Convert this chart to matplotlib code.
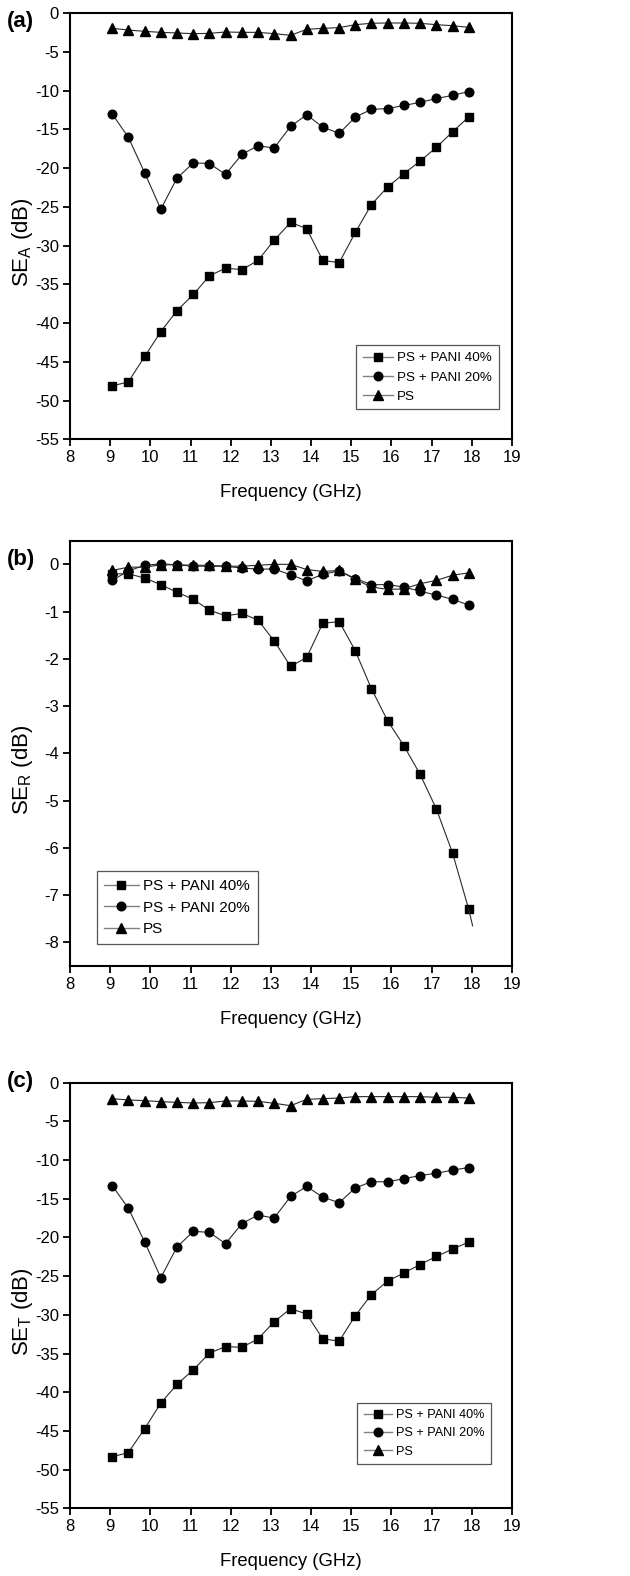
import matplotlib
matplotlib.use("Agg")
import matplotlib.pyplot as plt
from matplotlib.lines import Line2D

plt.rcParams['font.family'] = ['Liberation Sans', 'DejaVu Sans']
plt.rcParams['axes.unicode_minus'] = False
plt.rcParams['mathtext.fontset'] = 'custom'
plt.rcParams['mathtext.rm'] = 'Liberation Sans'

# ---------------- data ----------------
freq = [9.05, 9.45, 9.86, 10.26, 10.66, 11.07, 11.47, 11.87, 12.28, 12.68, 13.08, 13.49,
        13.89, 14.29, 14.70, 15.10, 15.50, 15.91, 16.31, 16.71, 17.12, 17.52, 17.92]

series_labels = ['PS + PANI 40%', 'PS + PANI 20%', 'PS']

se_a_pani40 = [-48.1, -47.6, -44.3, -41.1, -38.4, -36.3, -33.9, -32.9, -33.1, -31.9, -29.3, -27.0,
               -27.8, -31.9, -32.2, -28.3, -24.7, -22.4, -20.7, -19.1, -17.3, -15.3, -13.4]
se_a_pani20 = [-13.0, -16.0, -20.6, -25.3, -21.3, -19.3, -19.4, -20.8, -18.2, -17.1, -17.4, -14.6,
               -13.1, -14.7, -15.5, -13.4, -12.4, -12.3, -11.9, -11.5, -11.0, -10.6, -10.1]
se_a_ps = [-1.94, -2.16, -2.33, -2.46, -2.54, -2.63, -2.59, -2.41, -2.46, -2.46, -2.63, -2.84,
           -2.07, -1.94, -1.85, -1.47, -1.29, -1.25, -1.25, -1.29, -1.47, -1.60, -1.81]

se_r_pani40 = [-0.20, -0.20, -0.29, -0.43, -0.59, -0.74, -0.97, -1.09, -1.04, -1.18, -1.62, -2.16,
               -1.97, -1.25, -1.21, -1.83, -2.63, -3.32, -3.84, -4.44, -5.18, -6.11, -7.29]
se_r_pani40_tail_freq = [17.92, 18.02]
se_r_pani40_tail = [-7.29, -7.65]
se_r_pani20 = [-0.34, -0.14, -0.02, 0.01, -0.01, -0.04, -0.04, -0.04, -0.08, -0.10, -0.10, -0.22,
               -0.35, -0.21, -0.14, -0.30, -0.43, -0.43, -0.48, -0.57, -0.65, -0.74, -0.86]
se_r_ps = [-0.13, -0.06, -0.06, -0.01, -0.01, -0.02, -0.02, -0.04, -0.04, -0.02, 0.00, 0.00,
           -0.11, -0.15, -0.13, -0.32, -0.48, -0.53, -0.52, -0.41, -0.34, -0.23, -0.18]

se_t_pani40 = [-48.35, -47.8, -44.7, -41.4, -39.0, -37.1, -34.95, -34.1, -34.2, -33.1, -30.9, -29.2,
               -29.9, -33.1, -33.4, -30.1, -27.4, -25.6, -24.6, -23.5, -22.45, -21.5, -20.6]
se_t_pani20 = [-13.3, -16.2, -20.6, -25.2, -21.25, -19.2, -19.35, -20.8, -18.2, -17.1, -17.5, -14.7,
               -13.4, -14.8, -15.5, -13.6, -12.8, -12.8, -12.4, -12.0, -11.7, -11.3, -10.96]
se_t_ps = [-2.06, -2.23, -2.32, -2.45, -2.54, -2.62, -2.58, -2.36, -2.36, -2.41, -2.66, -2.97,
           -2.15, -2.06, -1.98, -1.80, -1.80, -1.80, -1.80, -1.80, -1.89, -1.89, -1.98]

x_ticks = list(range(8, 20))
yticks_ab = list(range(0, -56, -5))
yticks_r = list(range(0, -9, -1))

# ---------------- figure ----------------
W, H = 630, 1576
fig = plt.figure(figsize=(W / 100, H / 100), dpi=100)

def fx(px):
    return px / W

def fy(px):
    return 1 - px / H

L, R = 70, 512
panels = [
    dict(top=13.3, bot=439.3, ylim=(-55, 0), yticks=yticks_ab,
         data=[se_a_pani40, se_a_pani20, se_a_ps], ylabel=r'SE$_\mathregular{A}$ (dB)',
         tag='(a)', tag_y=22,
         leg=dict(loc='lower right', anchor=(0.970, 0.070), fs=9.7)),
    dict(top=540.7, bot=966.0, ylim=(-8.5, 0.5), yticks=yticks_r,
         data=[se_r_pani40, se_r_pani20, se_r_ps], ylabel=r'SE$_\mathregular{R}$ (dB)',
         tag='(b)', tag_y=560,
         leg=dict(loc='lower left', anchor=(0.060, 0.052), fs=11.0)),
    dict(top=1082.7, bot=1508.3, ylim=(-55, 0), yticks=yticks_ab,
         data=[se_t_pani40, se_t_pani20, se_t_ps], ylabel=r'SE$_\mathregular{T}$ (dB)',
         tag='(c)', tag_y=1082,
         leg=dict(loc='lower right', anchor=(0.952, 0.104), fs=9.1)),
]

markers = ['s', 'o', '^']
line_col = '#2a2a2a'

for i, p in enumerate(panels):
    ax = fig.add_axes([fx(L), fy(p['bot']), fx(R) - fx(L), fy(p['top']) - fy(p['bot'])])
    for vals, m, lab in zip(p['data'], markers, series_labels):
        ax.plot(freq, vals, color=line_col, lw=0.8, marker=m, ms=6.2 if m != '^' else 6.8,
                mfc='black', mec='black', label=lab)
    if i == 1:
        ax.plot(se_r_pani40_tail_freq, se_r_pani40_tail, color=line_col, lw=0.8)
    ax.set_xlim(8, 19)
    ax.set_ylim(*p['ylim'])
    ax.set_xticks(x_ticks)
    ax.set_yticks(p['yticks'])
    ax.tick_params(direction='out', length=5, width=1.3, labelsize=12, top=False, right=False, pad=3)
    for s in ax.spines.values():
        s.set_linewidth(1.5)
    ax.set_xlabel('Frequency (GHz)', fontsize=13.3)
    ax.xaxis.set_label_coords(0.5, -0.105)
    ax.set_ylabel(p['ylabel'], fontsize=16)
    ax.yaxis.set_label_coords(-0.079, 0.462)

    handles = [Line2D([], [], color='#808080', lw=1.0, marker=m, ms=6.2 if m != '^' else 6.8,
                      mfc='black', mec='black') for m in markers]
    lg = p['leg']
    leg = ax.legend(handles, series_labels, loc=lg['loc'], bbox_to_anchor=lg['anchor'],
                    fontsize=lg['fs'], frameon=True, fancybox=False, numpoints=1,
                    handlelength=2.25, handletextpad=0.3, borderpad=0.5, labelspacing=0.5,
                    borderaxespad=0.0)
    fr = leg.get_frame()
    fr.set_edgecolor('#555555')
    fr.set_linewidth(0.9)
    fr.set_alpha(1)

    fig.text(fx(7), fy(p['tag_y']), p['tag'], fontsize=16, fontweight='bold',
             ha='left', va='center')

fig.savefig('out.png', dpi=100)
